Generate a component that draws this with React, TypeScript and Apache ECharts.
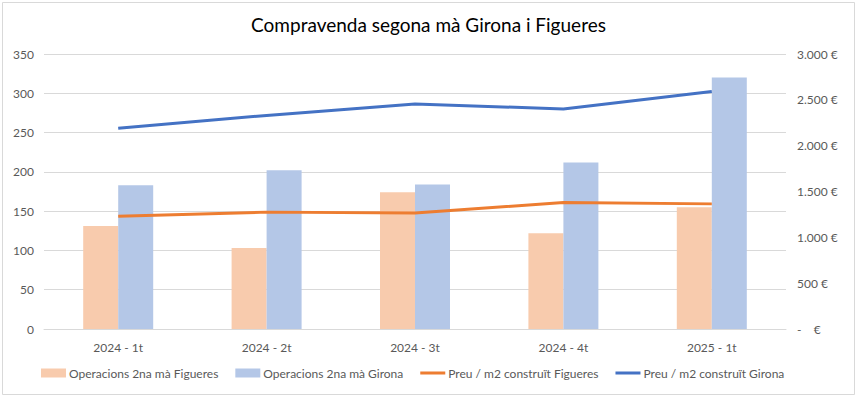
import React, { useEffect, useRef } from "react";
import * as echarts from "echarts";

const categories = ["2024 - 1t", "2024 - 2t", "2024 - 3t", "2024 - 4t", "2025 - 1t"];
const opsFigueres = [131, 103, 174, 122, 155];
const opsGirona = [183, 202, 184, 212, 320];
const preuFigueres = [1230, 1275, 1265, 1380, 1365];
const preuGirona = [2190, 2330, 2455, 2400, 2590];

const FONT = "Lato, 'Open Sans', sans-serif";
const LINE_ICON =
  "path://M0,0 L0.01,0 L0.01,0.01 Z M0,3 L25,3 L25,6 L0,6 Z M24.99,9 L25,9 L25,8.99 Z";

function fmtEuro(v: number): string {
  if (v === 0) return "-\u00a0\u00a0\u00a0\u00a0€";
  const s = String(Math.round(v)).replace(/\B(?=(\d{3})+(?!\d))/g, ".");
  return s + " €";
}

export default function App() {
  const ref = useRef<HTMLDivElement>(null);
  useEffect(() => {
    document.body.style.margin = "0";
    const chart = echarts.init(ref.current!, null, { renderer: "svg" });
    chart.setOption({
      animation: false,
      backgroundColor: "#fff",
      title: {
        text: "Compravenda segona mà Girona i Figueres",
        left: "center",
        top: 10,
        textStyle: { fontFamily: FONT, fontSize: 19, fontWeight: "normal", color: "#000" },
      },
      graphic: [
        {
          type: "rect",
          shape: { x: 2.5, y: 2.5, width: 852, height: 392 },
          style: { fill: "none", stroke: "#D9D9D9", lineWidth: 1 },
          silent: true,
        },
      ],
      legend: {
        left: 36,
        top: 362,
        itemWidth: 25,
        itemHeight: 9,
        itemGap: 17,
        textStyle: { fontFamily: FONT, fontSize: 12, color: "#595959", padding: [0, 0, 0, -2] },
        data: [
          { name: "Operacions 2na mà Figueres", icon: "rect" },
          { name: "Operacions 2na mà Girona", icon: "rect" },
          { name: "Preu / m2 construït Figueres", icon: LINE_ICON },
          { name: "Preu / m2 construït Girona", icon: LINE_ICON },
        ],
      },
      grid: { left: 44, right: 71, top: 54, bottom: 69 },
      xAxis: {
        type: "category",
        data: categories,
        axisTick: { show: false },
        axisLine: { lineStyle: { color: "#D9D9D9" } },
        axisLabel: { fontFamily: FONT, fontSize: 12, color: "#595959", margin: 12 },
      },
      yAxis: [
        {
          type: "value",
          min: 0,
          max: 350,
          interval: 50,
          axisLabel: { fontFamily: FONT, fontSize: 12, color: "#595959", margin: 10 },
          splitLine: { lineStyle: { color: "#D9D9D9" } },
        },
        {
          type: "value",
          min: 0,
          max: 3000,
          interval: 500,
          position: "right",
          axisLabel: {
            fontFamily: FONT,
            fontSize: 12,
            color: "#595959",
            margin: 11,
            formatter: (v: number) => fmtEuro(v),
          },
          splitLine: { show: false },
        },
      ],
      series: [
        {
          name: "Operacions 2na mà Figueres",
          type: "bar",
          data: opsFigueres,
          barWidth: 35,
          barGap: "0%",
          itemStyle: { color: "#F8CBAD" },
        },
        {
          name: "Operacions 2na mà Girona",
          type: "bar",
          data: opsGirona,
          barWidth: 35,
          barGap: "0%",
          itemStyle: { color: "#B4C7E7" },
        },
        {
          name: "Preu / m2 construït Figueres",
          type: "line",
          yAxisIndex: 1,
          data: preuFigueres,
          showSymbol: false,
          symbol: "none",
          lineStyle: { color: "#ED7D31", width: 3 },
          itemStyle: { color: "#ED7D31" },
        },
        {
          name: "Preu / m2 construït Girona",
          type: "line",
          yAxisIndex: 1,
          data: preuGirona,
          showSymbol: false,
          symbol: "none",
          lineStyle: { color: "#4472C4", width: 3 },
          itemStyle: { color: "#4472C4" },
        },
      ],
    });
    return () => chart.dispose();
  }, []);
  return <div ref={ref} style={{ width: 857, height: 398 }} />;
}
